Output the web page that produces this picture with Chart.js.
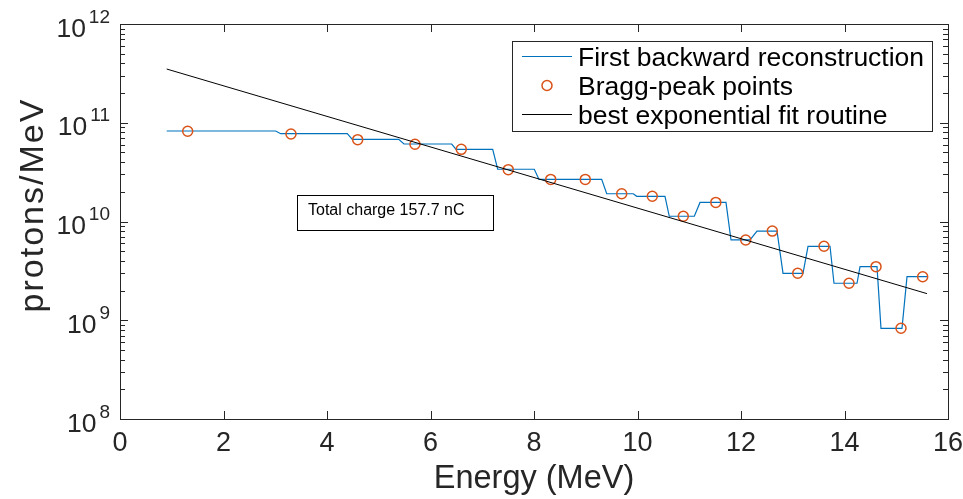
<!DOCTYPE html>
<html>
<head>
<meta charset="utf-8">
<script src="https://cdn.jsdelivr.net/npm/chart.js@4/dist/chart.umd.min.js"></script>
<style>
html,body{margin:0;padding:0;background:#fff;}
#wrap{width:963px;height:499px;}
</style>
</head>
<body>
<div id="wrap"><canvas id="c" width="963" height="499"></canvas></div>
<script>
// ---- data ----
const stepE = [0.902, 3.009, 3.105, 4.392, 4.489, 5.386, 5.488, 6.410, 6.493, 7.202, 7.298, 8.006, 8.097, 9.308, 9.405, 9.919, 9.985, 10.531, 10.614, 11.098, 11.208, 11.710, 11.807, 12.174, 12.309, 12.696, 12.812, 13.198, 13.295, 13.720, 13.797, 14.242, 14.300, 14.628, 14.705, 15.111, 15.208, 15.594];
const stepN = [8.25e10, 8.25e10, 7.75e10, 7.75e10, 6.8e10, 6.8e10, 6.09e10, 6.09e10, 5.38e10, 5.38e10, 3.38e10, 3.38e10, 2.67e10, 2.67e10, 1.91e10, 1.91e10, 1.80e10, 1.80e10, 1.13e10, 1.13e10, 1.56e10, 1.56e10, 6.5e9, 6.5e9, 8.0e9, 8.0e9, 2.99e9, 2.99e9, 5.61e9, 5.61e9, 2.37e9, 2.37e9, 3.49e9, 3.49e9, 8.29e8, 8.29e8, 2.76e9, 2.76e9];
const peakE = [1.308, 3.304, 4.593, 5.700, 6.595, 7.503, 8.323, 8.991, 9.695, 10.286, 10.885, 11.513, 12.091, 12.605, 13.096, 13.604, 14.087, 14.609, 15.092, 15.511];
const peakN = [8.2e10, 7.7e10, 6.74e10, 6.05e10, 5.38e10, 3.35e10, 2.67e10, 2.67e10, 1.91e10, 1.80e10, 1.13e10, 1.56e10, 6.5e9, 8.0e9, 2.99e9, 5.61e9, 2.37e9, 3.49e9, 8.29e8, 2.76e9];
const fitE = [0.902, 15.594];
const fitN = [3.5e11, 1.86e9];
const xTicks = [0, 2, 4, 6, 8, 10, 12, 14, 16];
const yTickExp = [8, 9, 10, 11, 12];
const seriesNames = ["First backward reconstruction", "Bragg-peak points", "best exponential fit routine"];
const xTitle = "Energy (MeV)";
const yTitle = "protons/MeV";
const annotationText = "Total charge 157.7 nC";

const BLUE = "#0072BD", ORANGE = "#D95319", AXC = "#262626";
const FONT = "'Liberation Sans', Arial, Helvetica, sans-serif";

const zip = (a, b) => a.map((v, i) => ({x: v, y: b[i]}));

const axesPlugin = {
  id: 'matlabAxes',
  afterDraw(chart) {
    const ctx = chart.ctx;
    const xs = chart.scales.x, ys = chart.scales.y;
    const L = Math.round(chart.chartArea.left), R = Math.round(chart.chartArea.right);
    const T = Math.round(chart.chartArea.top), B = Math.round(chart.chartArea.bottom);
    ctx.save();
    ctx.strokeStyle = AXC;
    ctx.lineWidth = 1;
    // box
    ctx.strokeRect(L + 0.5, T + 0.5, R - L, B - T);
    ctx.beginPath();
    // x ticks
    xTicks.forEach(v => {
      const px = Math.round(xs.getPixelForValue(v)) + 0.5;
      ctx.moveTo(px, B); ctx.lineTo(px, B - 8);
      ctx.moveTo(px, T); ctx.lineTo(px, T + 8);
    });
    // y major & minor ticks
    yTickExp.forEach((e, i) => {
      const py = Math.round(ys.getPixelForValue(Math.pow(10, e))) + 0.5;
      ctx.moveTo(L, py); ctx.lineTo(L + 8, py);
      ctx.moveTo(R, py); ctx.lineTo(R - 8, py);
      if (i < yTickExp.length - 1) {
        for (let k = 2; k <= 9; k++) {
          const pm = Math.round(ys.getPixelForValue(k * Math.pow(10, e))) + 0.5;
          ctx.moveTo(L, pm); ctx.lineTo(L + 5, pm);
          ctx.moveTo(R, pm); ctx.lineTo(R - 5, pm);
        }
      }
    });
    ctx.stroke();

    // x tick labels
    ctx.fillStyle = AXC;
    ctx.font = "27px " + FONT;
    ctx.textAlign = "center";
    ctx.textBaseline = "alphabetic";
    xTicks.forEach(v => {
      ctx.fillText(String(v), xs.getPixelForValue(v), 451);
    });
    // y tick labels with superscript
    yTickExp.forEach(e => {
      const py = ys.getPixelForValue(Math.pow(10, e));
      ctx.textAlign = "right";
      ctx.font = "19px " + FONT;
      const sup = String(e);
      ctx.fillText(sup, 110, py - 1.5);
      const sw = ctx.measureText(sup).width;
      ctx.font = "26.5px " + FONT;
      ctx.fillText("10", 110 - sw - 3, py + 12.7);
    });
    // axis titles
    ctx.textAlign = "center";
    ctx.font = "32.5px " + FONT;
    ctx.fillText(xTitle, (L + R) / 2, 488);
    ctx.save();
    ctx.translate(43, 206);
    ctx.rotate(-Math.PI / 2);
    ctx.font = "34px " + FONT;
    try { ctx.letterSpacing = "2px"; } catch (err) {}
    ctx.fillText(yTitle, 1, 0);
    ctx.restore();

    // annotation box
    ctx.fillStyle = "#fff";
    ctx.fillRect(297, 195, 196, 36);
    ctx.strokeStyle = "#000";
    ctx.strokeRect(297.5, 195.5, 196, 35);
    ctx.fillStyle = "#000";
    ctx.textAlign = "left";
    ctx.font = "16px " + FONT;
    ctx.fillText(annotationText, 308, 215);

    // legend
    const lx = 512, ly = 41, lw = 420, lh = 90;
    ctx.fillStyle = "#fff";
    ctx.fillRect(lx, ly, lw, lh);
    ctx.strokeStyle = AXC;
    ctx.strokeRect(lx + 0.5, ly + 0.5, lw, lh);
    const rows = [56.5, 85.5, 114.5];
    ctx.font = "26.5px " + FONT;
    ctx.fillStyle = "#000";
    rows.forEach((ry, i) => {
      if (i === 1) {
        ctx.strokeStyle = ORANGE; ctx.lineWidth = 1.5;
        ctx.beginPath(); ctx.arc(547, ry, 5, 0, Math.PI * 2); ctx.stroke();
      } else {
        ctx.strokeStyle = i === 0 ? BLUE : "#000"; ctx.lineWidth = 1;
        ctx.beginPath(); ctx.moveTo(522, ry); ctx.lineTo(572, ry); ctx.stroke();
      }
      ctx.fillText(seriesNames[i], 578, ry + 9.5);
    });
    ctx.restore();
  }
};

new Chart(document.getElementById('c'), {
  type: 'scatter',
  data: {
    datasets: [
      { label: seriesNames[2], data: zip(fitE, fitN), showLine: true, borderColor: "#000", borderWidth: 1, pointRadius: 0, order: 0 },
      { label: seriesNames[1], data: zip(peakE, peakN), showLine: false, pointStyle: 'circle', pointRadius: 5, pointBorderWidth: 1.5, pointBorderColor: ORANGE, pointBackgroundColor: 'rgba(0,0,0,0)', order: 1 },
      { label: seriesNames[0], data: zip(stepE, stepN), showLine: true, borderColor: BLUE, borderWidth: 1.2, pointRadius: 0, tension: 0, order: 2 }
    ]
  },
  options: {
    responsive: false,
    devicePixelRatio: 1,
    animation: false,
    layout: { padding: { left: 120, top: 24, right: 15, bottom: 80 } },
    plugins: { legend: { display: false }, tooltip: { enabled: false } },
    scales: {
      x: { type: 'linear', min: 0, max: 16, display: false },
      y: { type: 'logarithmic', min: 1e8, max: 1e12, display: false }
    }
  },
  plugins: [axesPlugin]
});
</script>
</body>
</html>
